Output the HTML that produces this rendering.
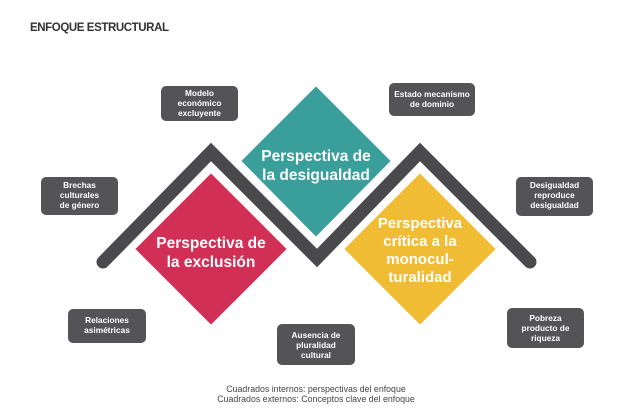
<!DOCTYPE html>
<html><head><meta charset="utf-8"><style>
html,body{margin:0;padding:0;background:#fff;width:625px;height:417px;overflow:hidden}
svg{display:block}
.b{font-family:"Liberation Sans",sans-serif;font-weight:bold;fill:#fff}
.bx{font-family:"Liberation Sans",sans-serif;font-weight:bold;fill:#fff;font-size:8.3px}
</style></head><body>
<svg width="625" height="417" viewBox="0 0 625 417" xmlns="http://www.w3.org/2000/svg">
<text x="30" y="31" font-family="Liberation Sans,sans-serif" font-weight="bold" font-size="11.5" fill="#333" textLength="139">ENFOQUE ESTRUCTURAL</text>
<!-- zigzag -->
<polyline points="103,262 211,152 317,258 420,152 530,262" fill="none" stroke="#fff" stroke-width="20" stroke-linejoin="miter" stroke-linecap="round"/>
<polyline points="103,262 211,152 317,258 420,152 530,262" fill="none" stroke="#4a4a4d" stroke-width="13" stroke-linejoin="miter" stroke-linecap="round"/>
<polygon points="316,85 392,161 316,238 240,161" fill="#3a9e9b" stroke="#fff" stroke-width="2"/>
<polygon points="211,172 288,249 211,326 134,249" fill="#d22f56" stroke="#fff" stroke-width="2"/>
<polygon points="420,172 497,249 420,326 343,249" fill="#f0bc33" stroke="#fff" stroke-width="2"/>
<text class="b" font-size="15.5" text-anchor="middle"><tspan x="316" y="161">Perspectiva de</tspan><tspan x="316" y="180">la desigualdad</tspan></text>
<text class="b" font-size="15.5" text-anchor="middle"><tspan x="211" y="248">Perspectiva de</tspan><tspan x="211" y="267">la exclusión</tspan></text>
<text class="b" font-size="15" text-anchor="middle"><tspan x="420" y="228">Perspectiva</tspan><tspan x="420" y="246">crítica a la</tspan><tspan x="420" y="264">monocul-</tspan><tspan x="420" y="282">turalidad</tspan></text>
<g fill="#545457">
<rect x="161" y="86" width="77" height="35" rx="5"/>
<rect x="41" y="177" width="77" height="38" rx="5"/>
<rect x="68" y="309" width="78" height="34" rx="5"/>
<rect x="277" y="324" width="78" height="41" rx="5"/>
<rect x="389" y="83" width="86" height="33" rx="5"/>
<rect x="516" y="177" width="77" height="39" rx="5"/>
<rect x="507" y="308" width="77" height="40" rx="5"/>
</g>
<g class="bx" text-anchor="middle">
<text><tspan x="199.5" y="96">Modelo</tspan><tspan x="199.5" y="106">económico</tspan><tspan x="199.5" y="116">excluyente</tspan></text>
<text><tspan x="79.5" y="188">Brechas</tspan><tspan x="79.5" y="198">culturales</tspan><tspan x="79.5" y="208">de género</tspan></text>
<text><tspan x="107" y="323">Relaciones</tspan><tspan x="107" y="333">asimétricas</tspan></text>
<text><tspan x="316" y="338">Ausencia de</tspan><tspan x="316" y="348">pluralidad</tspan><tspan x="316" y="358">cultural</tspan></text>
<text><tspan x="432" y="97">Estado mecanismo</tspan><tspan x="432" y="107">de dominio</tspan></text>
<text><tspan x="554.5" y="188">Desigualdad</tspan><tspan x="554.5" y="198">reproduce</tspan><tspan x="554.5" y="208">desigualdad</tspan></text>
<text><tspan x="545.5" y="321">Pobreza</tspan><tspan x="545.5" y="331">producto de</tspan><tspan x="545.5" y="341">riqueza</tspan></text>
</g>
<text font-family="Liberation Sans,sans-serif" font-size="8.8" fill="#444" text-anchor="middle"><tspan x="316" y="392">Cuadrados internos: perspectivas del enfoque</tspan><tspan x="316" y="402">Cuadrados externos: Conceptos clave del enfoque</tspan></text>
</svg>
</body></html>
